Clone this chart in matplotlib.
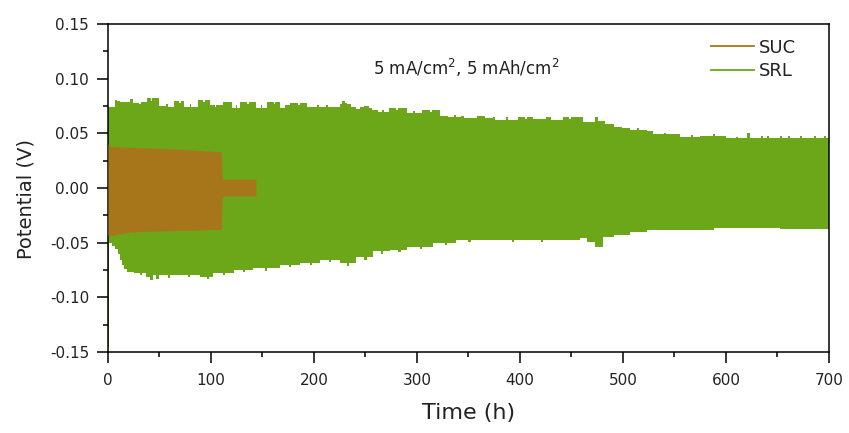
import matplotlib
matplotlib.use("Agg")
import numpy as np
import matplotlib.pyplot as plt
from matplotlib.lines import Line2D
from matplotlib.ticker import MultipleLocator, FormatStrFormatter

plt.rcParams['font.family'] = ['DejaVu Sans']
plt.rcParams['mathtext.fontset'] = 'dejavusans'

# Voltage envelope of the SRL cell (upper / lower bounds of the cycling profile), step-wise
srl_t_up = [0, 6.5, 9, 11.5, 21, 24, 30, 32, 38, 42, 43, 50, 56, 58, 64, 69, 71, 74, 80, 81,
            87, 92, 94, 99, 104, 105, 112, 120, 124, 125, 128, 135, 137, 144, 149, 150, 154,
            161, 162, 167, 172, 177, 184, 186, 193, 203, 205, 212, 214, 225, 227, 230, 232,
            236, 241, 245, 249, 253, 256, 262, 266, 268, 273, 280, 282, 290, 296, 298, 305,
            313, 315, 322, 330, 336, 338, 343, 346, 355, 358, 366, 374, 376, 386, 388, 398,
            405, 407, 413, 425, 430, 442, 448, 450, 461, 473, 476, 483, 491, 499, 507, 514,
            516, 523, 529, 540, 542, 555, 566, 568, 575, 587, 589, 600, 610, 612, 620, 623,
            634, 636, 640, 642, 652, 654, 660, 662, 672, 674, 685, 687, 695, 697, 700]
srl_up = [0.0744, 0.0805, 0.0795, 0.0784, 0.081, 0.078, 0.0768, 0.0785, 0.082, 0.0795, 0.082,
          0.075, 0.077, 0.0745, 0.080, 0.0775, 0.0795, 0.0744, 0.0765, 0.0744, 0.0805, 0.0785,
          0.0805, 0.076, 0.0745, 0.076, 0.079, 0.073, 0.0755, 0.073, 0.079, 0.0765, 0.079,
          0.073, 0.0755, 0.073, 0.079, 0.0765, 0.079, 0.073, 0.0755, 0.078, 0.0755, 0.078,
          0.074, 0.0755, 0.074, 0.076, 0.074, 0.0765, 0.080, 0.078, 0.0765, 0.0745, 0.0722,
          0.0745, 0.0753, 0.073, 0.0713, 0.0698, 0.0715, 0.0698, 0.073, 0.071, 0.073, 0.0683,
          0.0705, 0.0683, 0.0713, 0.0695, 0.0713, 0.066, 0.065, 0.0665, 0.065, 0.066, 0.064,
          0.0637, 0.066, 0.0637, 0.065, 0.0622, 0.0645, 0.0622, 0.065, 0.0635, 0.065, 0.063,
          0.065, 0.0622, 0.0645, 0.063, 0.0645, 0.0607, 0.065, 0.0615, 0.0583, 0.056, 0.0545,
          0.053, 0.0545, 0.053, 0.052, 0.049, 0.0505, 0.049, 0.047, 0.0485, 0.047, 0.048,
          0.0495, 0.048, 0.0455, 0.047, 0.0455, 0.050, 0.046, 0.0475, 0.046, 0.048, 0.046,
          0.0475, 0.046, 0.048, 0.046, 0.0475, 0.046, 0.048, 0.046, 0.0475, 0.046, 0.046]

srl_t_lo = [0, 1.2, 4, 7, 10, 12, 14, 16, 18, 25, 31, 33, 37, 41, 44, 47, 50, 58, 60, 70, 78,
            80, 89, 96, 98, 102, 112, 114, 122, 131, 133, 141, 152, 154, 167, 176, 178, 186,
            196, 198, 206, 215, 217, 225, 232, 234, 241, 249, 251, 257, 265, 267, 274, 282,
            284, 290, 303, 305, 316, 327, 329, 338, 350, 352, 362, 380, 392, 394, 406, 420,
            422, 435, 458, 465, 473, 481, 491, 507, 523, 555, 588, 620, 652, 700]
srl_lo = [-0.145, -0.050, -0.053, -0.056, -0.060, -0.066, -0.070, -0.074, -0.0765, -0.078,
          -0.0795, -0.078, -0.081, -0.084, -0.080, -0.083, -0.080, -0.082, -0.080, -0.0795,
          -0.0815, -0.0795, -0.081, -0.083, -0.081, -0.078, -0.080, -0.078, -0.075, -0.077,
          -0.075, -0.0735, -0.0755, -0.0735, -0.0704, -0.0725, -0.0704, -0.069, -0.0705,
          -0.069, -0.066, -0.068, -0.066, -0.069, -0.071, -0.069, -0.063, -0.0655, -0.063,
          -0.058, -0.0605, -0.058, -0.057, -0.059, -0.057, -0.0537, -0.0555, -0.0537,
          -0.0506, -0.0525, -0.0506, -0.0476, -0.0495, -0.0476, -0.048, -0.0476, -0.049,
          -0.0476, -0.048, -0.0495, -0.048, -0.0476, -0.046, -0.049, -0.0537, -0.0445,
          -0.043, -0.040, -0.0385, -0.038, -0.0363, -0.037, -0.0375, -0.0375]

# Voltage envelope of the SUC cell
suc_t = [0, 2, 24, 25, 26, 60, 110, 110.8, 143.5]
suc_up = [0.0402, 0.038, 0.037, 0.038, 0.037, 0.036, 0.033, 0.008, 0.008]
suc_lo = [-0.043, -0.0436, -0.040, -0.042, -0.040, -0.039, -0.0378, -0.0073, -0.0073]

SUC_COLOR = '#A8761A'
SRL_COLOR = '#6BA718'

fig = plt.figure(figsize=(8.49, 4.33), dpi=100)
ax = fig.add_axes([0.1272, 0.1871, 0.8492, 0.7575])

# Put both SRL bounds on a common time grid so the band can be filled in one call
t_all = np.unique(np.concatenate([srl_t_up, srl_t_lo]))

def step_at(ts, vs, t):
    idx = np.searchsorted(ts, t, side='right') - 1
    return np.asarray(vs)[np.clip(idx, 0, len(vs) - 1)]

up_all = step_at(srl_t_up, srl_up, t_all)
lo_all = step_at(srl_t_lo, srl_lo, t_all)
ax.fill_between(t_all, lo_all, up_all, step='post', color=SRL_COLOR, linewidth=0, zorder=2)
ax.fill_between(suc_t, suc_lo, suc_up, color=SUC_COLOR, linewidth=0, zorder=3)

ax.set_xlim(0, 700)
ax.set_ylim(-0.15, 0.15)
ax.xaxis.set_major_locator(MultipleLocator(100))
ax.xaxis.set_minor_locator(MultipleLocator(50))
ax.yaxis.set_major_locator(MultipleLocator(0.05))
ax.yaxis.set_minor_locator(MultipleLocator(0.025))
ax.yaxis.set_major_formatter(FormatStrFormatter('%.2f'))

ax.tick_params(which='major', direction='out', length=8, width=1.1, labelsize=11,
               top=False, right=False, labelcolor='#222222')
ax.tick_params(axis='y', which='major', pad=5.5)
ax.tick_params(axis='x', which='major', pad=7)
ax.tick_params(which='minor', direction='out', length=3.5, width=1.1, top=False, right=False)
for s in ax.spines.values():
    s.set_linewidth(1.1)

ax.set_xlabel('Time (h)', fontsize=16, labelpad=11, color='#222222')
ax.set_ylabel('Potential (V)', fontsize=14, color='#222222')
ax.yaxis.set_label_coords(-0.101, 0.466)

ax.text(348, 0.1095, r'5 mA/cm$^2$, 5 mAh/cm$^2$', ha='center', va='center', fontsize=12,
        color='#222222')

handles = [Line2D([], [], color=SUC_COLOR, lw=1.3),
           Line2D([], [], color=SRL_COLOR, lw=1.3)]
ax.legend(handles, ['SUC', 'SRL'], loc='upper left', bbox_to_anchor=(0.836, 0.955),
          frameon=False, fontsize=13, handlelength=2.4, handletextpad=0.25,
          labelspacing=0.3, borderaxespad=0, borderpad=0, labelcolor='#222222')

fig.savefig('out.png', dpi=100)
